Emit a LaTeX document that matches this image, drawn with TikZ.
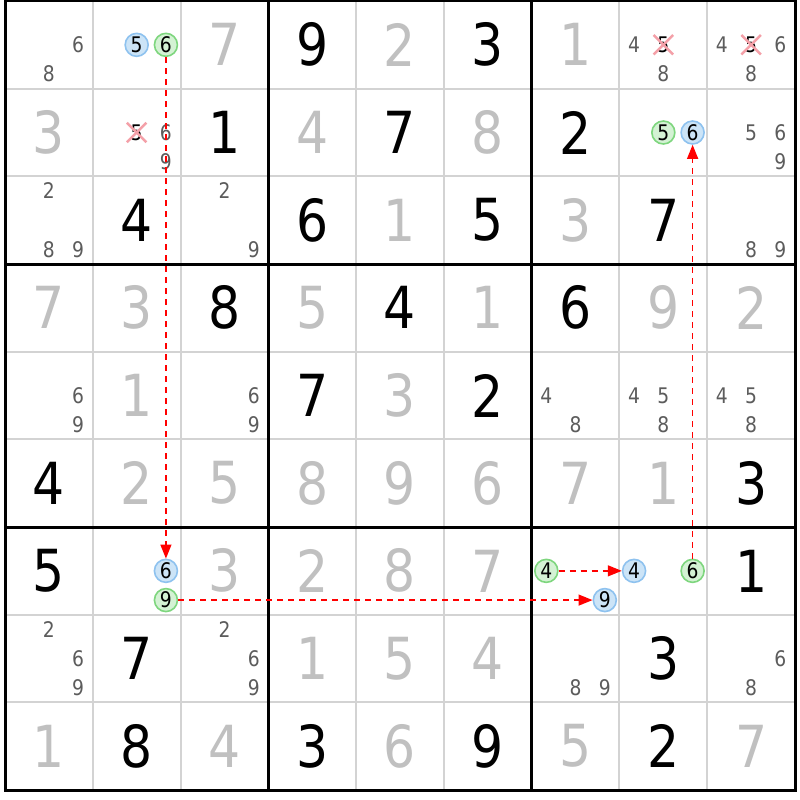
\documentclass[tikz,border=0pt]{standalone}
\usepackage{fontspec}
\setmainfont{DejaVu Sans}[FakeStretch=0.87]
\usetikzlibrary{arrows.meta,shapes.misc}
\definecolor{solvedgray}{HTML}{C0C0C0}
\definecolor{candgray}{HTML}{5C5C5C}
\definecolor{thingrid}{HTML}{D3D3D3}
\definecolor{bluefill}{HTML}{CCE4F7}
\definecolor{bluedraw}{HTML}{8EC2EF}
\definecolor{greenfill}{HTML}{D4F2D4}
\definecolor{greendraw}{HTML}{7ED67E}
\definecolor{crosscol}{HTML}{F4A0A8}
\tikzset{
  given/.style={font=\fontsize{58}{58}\selectfont, text=black, inner sep=0pt},
  solved/.style={given, text=solvedgray},
  cand/.style={font=\fontsize{21.5}{21.5}\selectfont, text=candgray, inner sep=0pt},
  bluec/.style={circle, draw=bluedraw, fill=bluefill, line width=1.6pt, minimum size=23pt, text=black},
  greenc/.style={circle, draw=greendraw, fill=greenfill, line width=1.6pt, minimum size=23pt, text=black},
  crossed/.style={cross out, draw=crosscol, line width=2.5pt, minimum size=17pt, text=black},
  thinline/.style={draw=thingrid, line width=2pt},
  thickline/.style={draw=black, line width=3pt},
  link/.style={draw=red, line width=1.3pt, dash pattern=on 6pt off 5pt, -{Triangle[length=14pt,width=11pt]}}
}
\newcommand\Gv[3]{\node[given] (g#1#2) at (#2-0.5,#1-0.5) {#3};}
\newcommand\Sv[3]{\node[solved] (s#1#2) at (#2-0.5,#1-0.5) {#3};}
\newcommand\Cn[4][]{%
  \pgfmathsetmacro\kx{mod(#4-1,3)-1}%
  \pgfmathsetmacro\my{floor((#4-1)/3)-1}%
  \node[cand,#1] (c#2#3#4) at ({#3-0.5+\kx/3},{#2-0.5+\my/3}) {#4};}
\newcommand\Cd[3]{\foreach \dd in {#3}{\Cn{#1}{#2}{\dd}}}
\begin{document}
\begin{tikzpicture}[x=1pt,y=-1pt]
\fill[white] (0,0) rectangle (800,800);
\useasboundingbox (0,0) rectangle (800,800);
\begin{scope}[shift={(5pt,-1pt)}, x=87.78pt, y=-87.67pt]
  \foreach \k in {1,2,4,5,7,8} {
    \draw[thinline] (\k,0) -- (\k,9);
    \draw[thinline] (0,\k) -- (9,\k);
  }
  \foreach \k in {3,6} {
    \draw[thickline] (\k,0) -- (\k,9);
    \draw[thickline] (0,\k) -- (9,\k);
  }
  \draw[thickline] (0,0) rectangle (9,9);
  % Row 1
  \Cd{1}{1}{6,8}
  \Cn[bluec]{1}{2}{5}
  \Cn[greenc]{1}{2}{6}
  \Sv{1}{3}{7} \Gv{1}{4}{9} \Sv{1}{5}{2} \Gv{1}{6}{3} \Sv{1}{7}{1}
  \Cd{1}{8}{4,8}
  \Cn[crossed]{1}{8}{5}
  \Cd{1}{9}{4,6,8}
  \Cn[crossed]{1}{9}{5}
  % Row 2
  \Sv{2}{1}{3}
  \Cn[crossed]{2}{2}{5}
  \Cd{2}{2}{6,9}
  \Gv{2}{3}{1} \Sv{2}{4}{4} \Gv{2}{5}{7} \Sv{2}{6}{8} \Gv{2}{7}{2}
  \Cn[greenc]{2}{8}{5}
  \Cn[bluec]{2}{8}{6}
  \Cd{2}{9}{5,6,9}
  % Row 3
  \Cd{3}{1}{2,8,9}
  \Gv{3}{2}{4}
  \Cd{3}{3}{2,9}
  \Gv{3}{4}{6} \Sv{3}{5}{1} \Gv{3}{6}{5} \Sv{3}{7}{3} \Gv{3}{8}{7}
  \Cd{3}{9}{8,9}
  % Row 4
  \Sv{4}{1}{7} \Sv{4}{2}{3} \Gv{4}{3}{8} \Sv{4}{4}{5} \Gv{4}{5}{4}
  \Sv{4}{6}{1} \Gv{4}{7}{6} \Sv{4}{8}{9} \Sv{4}{9}{2}
  % Row 5
  \Cd{5}{1}{6,9}
  \Sv{5}{2}{1}
  \Cd{5}{3}{6,9}
  \Gv{5}{4}{7} \Sv{5}{5}{3} \Gv{5}{6}{2}
  \Cd{5}{7}{4,8}
  \Cd{5}{8}{4,5,8}
  \Cd{5}{9}{4,5,8}
  % Row 6
  \Gv{6}{1}{4} \Sv{6}{2}{2} \Sv{6}{3}{5} \Sv{6}{4}{8} \Sv{6}{5}{9}
  \Sv{6}{6}{6} \Sv{6}{7}{7} \Sv{6}{8}{1} \Gv{6}{9}{3}
  % Row 7
  \Gv{7}{1}{5}
  \Cn[bluec]{7}{2}{6}
  \Cn[greenc]{7}{2}{9}
  \Sv{7}{3}{3} \Sv{7}{4}{2} \Sv{7}{5}{8} \Sv{7}{6}{7}
  \Cn[greenc]{7}{7}{4}
  \Cn[bluec]{7}{7}{9}
  \Cn[bluec]{7}{8}{4}
  \Cn[greenc]{7}{8}{6}
  \Gv{7}{9}{1}
  % Row 8
  \Cd{8}{1}{2,6,9}
  \Gv{8}{2}{7}
  \Cd{8}{3}{2,6,9}
  \Sv{8}{4}{1} \Sv{8}{5}{5} \Sv{8}{6}{4}
  \Cd{8}{7}{8,9}
  \Gv{8}{8}{3}
  \Cd{8}{9}{6,8}
  % Row 9
  \Sv{9}{1}{1} \Gv{9}{2}{8} \Sv{9}{3}{4} \Gv{9}{4}{3} \Sv{9}{5}{6}
  \Gv{9}{6}{9} \Sv{9}{7}{5} \Gv{9}{8}{2} \Sv{9}{9}{7}
  % Links
  \draw[link] (c126) -- (c726);
  \draw[link] (c729) -- (c779);
  \draw[link] (c774) -- (c784);
  \draw[link] (c786) -- (c286);
\end{scope}
\end{tikzpicture}
\end{document}
